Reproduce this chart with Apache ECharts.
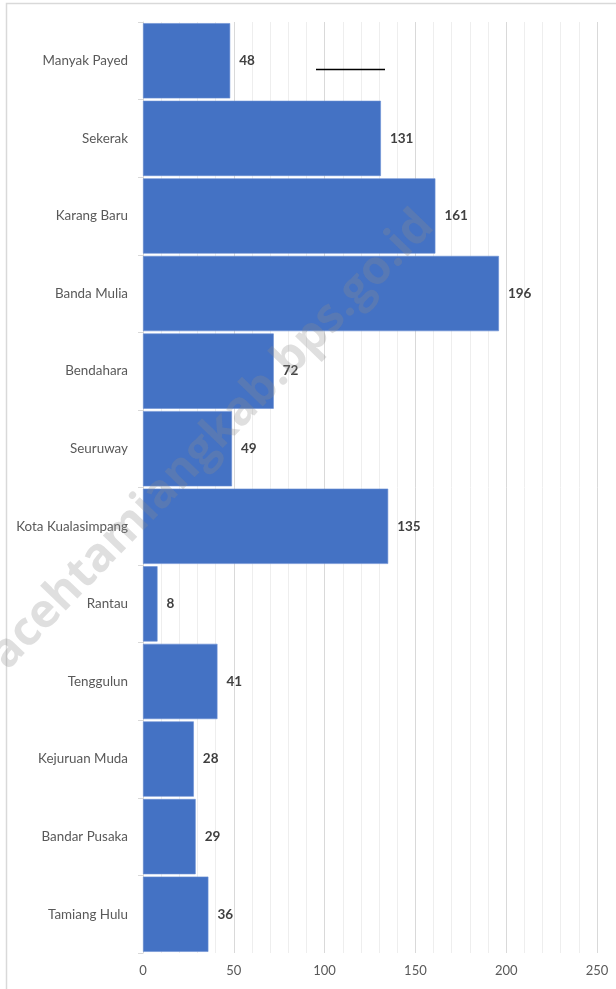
<!DOCTYPE html>
<html>
<head>
<meta charset="utf-8">
<script src="https://cdn.jsdelivr.net/npm/echarts@6/dist/echarts.min.js"></script>
<style>
html,body{margin:0;padding:0;background:#fff;}
#chart{width:616px;height:989px;}
</style>
</head>
<body>
<div id="chart"></div>
<script>
var categories = ["Manyak Payed","Sekerak","Karang Baru","Banda Mulia","Bendahara","Seuruway","Kota Kualasimpang","Rantau","Tenggulun","Kejuruan Muda","Bandar Pusaka","Tamiang Hulu"];
var values = [48,131,161,196,72,49,135,8,41,28,29,36];
var xTicks = [0,50,100,150,200,250];
var watermarkText = "acehtamiangkab.bps.go.id";

var chart = echarts.init(document.getElementById('chart'));
var font = 'Lato, "Open Sans", sans-serif';
chart.setOption({
  backgroundColor: '#fff',
  animation: false,
  grid: {left: 143, right: 19, top: 22, bottom: 36, containLabel: false},
  xAxis: [{
    type: 'value', min: 0, max: 250, interval: 10,
    axisLine: {show: false}, axisTick: {show: false},
    axisLabel: {
      color: '#595959', fontSize: 13, fontFamily: font, margin: 11,
      formatter: function(v){ return xTicks.indexOf(v) >= 0 ? String(v) : ''; }
    },
    splitLine: {show: true, lineStyle: {color: '#eeeeee', width: 1}}
  },{
    type: 'value', min: 0, max: 250, interval: 50, position: 'bottom',
    axisLine: {show: false}, axisTick: {show: false}, axisLabel: {show: false},
    splitLine: {show: true, lineStyle: {color: '#d9d9d9', width: 1}}
  }],
  yAxis: {
    type: 'category', data: categories, inverse: true,
    axisLine: {show: true, lineStyle: {color: '#d9d9d9', width: 1}},
    axisTick: {show: true, length: 5, lineStyle: {color: '#d9d9d9'}},
    axisLabel: {color: '#595959', fontSize: 13.4, fontFamily: font, margin: 15}
  },
  series: [{
    type: 'bar', data: values, xAxisIndex: 0,
    barCategoryGap: '3%',
    itemStyle: {color: '#4472C4', borderColor: '#6a8fd3', borderWidth: 0.6},
    label: {show: true, position: 'right', distance: 9, color: '#404040', fontSize: 13.5, fontWeight: 'bold', fontFamily: font}
  }],
  graphic: [
    {type: 'rect', shape: {x: 6.5, y: 3.5, width: 700, height: 1100}, style: {fill: 'none', stroke: '#d9d9d9', lineWidth: 1.5}, z: 0},
    {type: 'line', shape: {x1: 316, y1: 69.5, x2: 385, y2: 69.5}, style: {stroke: '#000', lineWidth: 1.5}, z: 100},
    {type: 'text', x: 212, y: 440, rotation: Math.PI * 46 / 180,
     style: {text: watermarkText, fill: 'rgba(140,140,140,0.28)', font: 'bold 47px "Open Sans", sans-serif', align: 'center', verticalAlign: 'middle'}, z: 100}
  ]
});
</script>
</body>
</html>
